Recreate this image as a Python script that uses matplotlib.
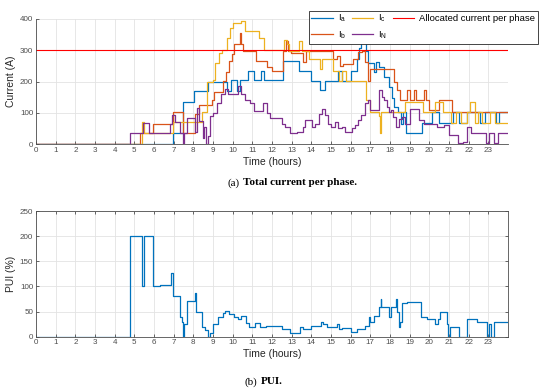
import numpy as np
import matplotlib
matplotlib.use("Agg")
import matplotlib.pyplot as plt

plt.rcParams['font.family'] = ['Liberation Sans', 'DejaVu Sans']
plt.rcParams['mathtext.default'] = 'regular'

# phase currents (A), step data: change times (h) and new values
ia_t = [0, 6.98, 7.5, 8.05, 8.75, 9.7, 9.9, 10.2, 10.35, 10.8, 11.1, 11.45, 11.6, 12.55, 13.35,
        14.0, 14.45, 14.7, 15.35, 15.55, 16.0, 16.3, 16.45, 16.55, 16.8, 16.9, 17.2, 17.3, 17.45,
        17.7, 17.95, 18.1, 18.2, 18.4, 18.55, 18.65, 18.8, 19.65, 20.15, 20.5, 21.2, 21.5, 21.9,
        22.6, 22.85, 23.4, 23.55, 24]
ia_v = [0, 35, 135, 170, 200, 170, 205, 170, 205, 235, 205, 235, 205, 266, 235,
        203, 172, 203, 235, 203, 235, 272, 306, 322, 296, 258, 231, 262, 245,
        215, 183, 146, 120, 104, 66, 104, 35, 69, 104, 69, 104, 69, 104,
        69, 104, 69, 104, 104]

ib_t = [0, 5.3, 5.95, 6.95, 7.45, 8.1, 8.3, 8.95, 9.05, 9.5, 9.65, 9.8, 9.95, 10.05, 10.35, 10.45,
        10.55, 11.2, 11.75, 12.0, 12.55, 12.7, 12.8, 12.95, 13.6, 13.75, 15.1, 15.3, 15.45, 15.6,
        16.1, 16.35, 16.6, 16.75, 16.9, 17.0, 18.2, 18.35, 18.5, 18.85, 19.0, 19.2, 19.35, 19.75,
        19.85, 20.0, 20.5, 21.15, 24]
ib_v = [0, 35, 66, 103, 35, 98, 124, 140, 166, 203, 230, 266, 287, 319, 356, 319,
        298, 266, 245, 235, 298, 330, 298, 290, 261, 298, 272, 282, 250, 255,
        272, 293, 298, 261, 203, 240, 200, 172, 141, 172, 141, 172, 141, 172,
        141, 108, 141, 103, 103]

ic_t = [0, 5.4, 5.5, 6.95, 8.45, 8.7, 9.0, 9.1, 9.3, 9.45, 9.7, 9.85, 10.0, 10.4, 10.65, 11.35,
        11.6, 12.6, 12.75, 12.85, 13.35, 13.55, 13.9, 14.45, 14.55, 15.1, 15.4, 15.55, 15.75,
        16.8, 17.0, 17.45, 17.5, 17.55, 17.95, 18.75, 19.7, 20.3, 20.7, 21.1, 21.35, 21.6, 21.9,
        22.05, 22.35, 22.5, 22.7, 23.1, 23.35, 24]
ic_v = [0, 70, 35, 70, 103, 200, 205, 260, 290, 300, 340, 370, 385, 392, 360, 340,
        300, 332, 318, 298, 330, 298, 272, 240, 272, 235, 203, 235, 203,
        140, 104, 90, 35, 104, 103, 135, 103, 136, 104, 69, 104, 69, 104,
        136, 69, 104, 69, 104, 69, 69]

in_t = [0, 4.78, 5.42, 5.75, 6.8, 6.9, 7.05, 7.3, 7.5, 7.55, 7.7, 8.1, 8.2, 8.3, 8.5, 8.55, 8.65,
        8.75, 8.85, 9.0, 9.2, 9.4, 9.6, 9.75, 10.25, 10.45, 10.65, 10.9, 11.1, 11.55, 11.75, 11.9,
        12.5, 12.65, 12.9, 13.25, 13.6, 13.7, 14.05, 14.2, 14.4, 14.55, 14.7, 14.85, 15.0, 15.2,
        15.35, 15.55, 15.7, 16.05, 16.2, 16.35, 16.55, 16.75, 16.9, 17.0, 17.45, 17.6, 17.7,
        17.85, 17.95, 18.05, 18.15, 18.3, 18.45, 18.6, 18.75, 19.0, 19.5, 19.75, 20.4, 20.75,
        21.0, 21.45, 21.7, 21.9, 22.1, 22.9, 23.05, 23.3, 23.5, 24]
in_v = [0, 35, 69, 35, 65, 92, 70, 35, 0, 35, 85, 40, 115, 75, 20, 55, 0,
        25, 90, 100, 130, 160, 175, 160, 187, 160, 140, 130, 105, 130, 100, 85,
        66, 56, 35, 40, 56, 77, 56, 66, 98, 113, 93, 66, 56, 72,
        51, 56, 40, 51, 61, 77, 93, 130, 140, 108, 172, 150, 140,
        119, 103, 108, 87, 56, 82, 87, 66, 113, 77, 66, 56, 61,
        30, 3, 8, 56, 35, 3, 35, 3, 35, 35]

allocated = 300

# phase unbalance index (%)
pui_t = [0, 4.78, 5.37, 5.49, 5.97, 6.3, 6.85, 6.98, 7.32, 7.42, 7.49, 7.53, 7.66, 8.1, 8.15,
         8.45, 8.6, 8.76, 8.85, 9.0, 9.27, 9.5, 9.6, 9.8, 10.05, 10.25, 10.45, 10.7, 10.85,
         11.13, 11.4, 11.7, 12.5, 12.93, 13.44, 13.6, 14.0, 14.5, 14.6, 14.8, 15.3, 15.4,
         15.55, 16.0, 16.3, 16.75, 16.92, 16.97, 17.2, 17.45, 17.52, 17.56, 17.95, 18.05, 18.3,
         18.34, 18.45, 18.52, 18.6, 18.86, 19.03, 19.6, 19.88, 20.3, 20.45, 20.55, 20.9, 20.95,
         21.05, 21.5, 21.93, 22.44, 22.95, 23.05, 23.15, 23.27, 23.52, 24]
pui_v = [0, 200, 100, 200, 100, 102, 126, 81, 40, 30, 0, 25, 72, 87, 50,
         20, 13, 0, 8, 25, 40, 47, 52, 45, 40, 35, 42, 28, 20,
         28, 20, 22, 15, 8, 20, 15, 22, 30, 25, 20, 25, 15,
         18, 10, 15, 22, 40, 30, 42, 60, 75, 60, 40, 60, 75,
         50, 20, 30, 68, 70, 70, 40, 35, 25, 35, 50, 25, 0,
         20, 0, 35, 30, 0, 25, 0, 30, 30, 30]

hours = np.arange(0, 24)

blue = '#0072BD'
orange = '#D95319'
yellow = '#EDB120'
purple = '#7E2F8E'
axcol = '#4d4d4d'

fig = plt.figure(figsize=(5.5, 3.91), dpi=100)
ax1 = fig.add_axes([0.0655, 0.631, 0.858, 0.321])
ax2 = fig.add_axes([0.0655, 0.139, 0.858, 0.321])

lw = 0.9
ax1.step(ia_t, ia_v, where='post', color=blue, lw=lw, label='I$_a$')
ax1.step(ib_t, ib_v, where='post', color=orange, lw=lw, label='I$_b$')
ax1.step(ic_t, ic_v, where='post', color=yellow, lw=lw, label='I$_c$')
ax1.step(in_t, in_v, where='post', color=purple, lw=lw, label='I$_N$')
ax1.axhline(allocated, color='#FF0000', lw=0.8, label='Allocated current per phase')

ax2.step(pui_t, pui_v, where='post', color=blue, lw=lw)

for ax in (ax1, ax2):
    ax.set_xlim(0, 24)
    ax.set_xticks(hours)
    ax.grid(True, color='#e3e3e3', lw=0.6)
    ax.set_axisbelow(True)
    ax.tick_params(direction='in', length=2.5, width=0.6, colors=axcol, labelsize=5.8, pad=2)
    for s in ax.spines.values():
        s.set_color(axcol)
        s.set_linewidth(0.6)
    ax.set_xlabel('Time (hours)', fontsize=7.5, color='#262626', labelpad=2)

ax1.set_ylim(0, 400)
ax1.set_yticks([0, 100, 200, 300, 400])
ax1.spines['top'].set_visible(False)
ax1.spines['right'].set_visible(False)
ax1.set_ylabel('Current (A)', fontsize=7.5, color='#262626', labelpad=3)

ax2.set_ylim(0, 250)
ax2.set_yticks([0, 50, 100, 150, 200, 250])
ax2.tick_params(top=True, right=True)
ax2.set_ylabel('PUI (%)', fontsize=7.5, color='#262626', labelpad=3)

leg = fig.legend(loc='upper right', bbox_to_anchor=(0.986, 0.985), ncol=3, fontsize=6.8,
                 frameon=True, fancybox=False, edgecolor='#262626', framealpha=1,
                 handlelength=2.3, columnspacing=0.6, handletextpad=0.5, borderpad=0.25,
                 labelspacing=0.55)
leg.get_frame().set_linewidth(0.6)

cap = dict(family=['Liberation Serif', 'DejaVu Serif'], fontsize=8, va='center')
fig.text(0.436, 1 - 183 / 391, '(a)', ha='right', **cap)
fig.text(0.442, 1 - 183 / 391, 'Total current per phase.', ha='left', weight='bold', **cap)
fig.text(0.468, 1 - 382 / 391, '(b)', ha='right', **cap)
fig.text(0.475, 1 - 382 / 391, 'PUI.', ha='left', weight='bold', **cap)

fig.savefig('out.png', dpi=100)
